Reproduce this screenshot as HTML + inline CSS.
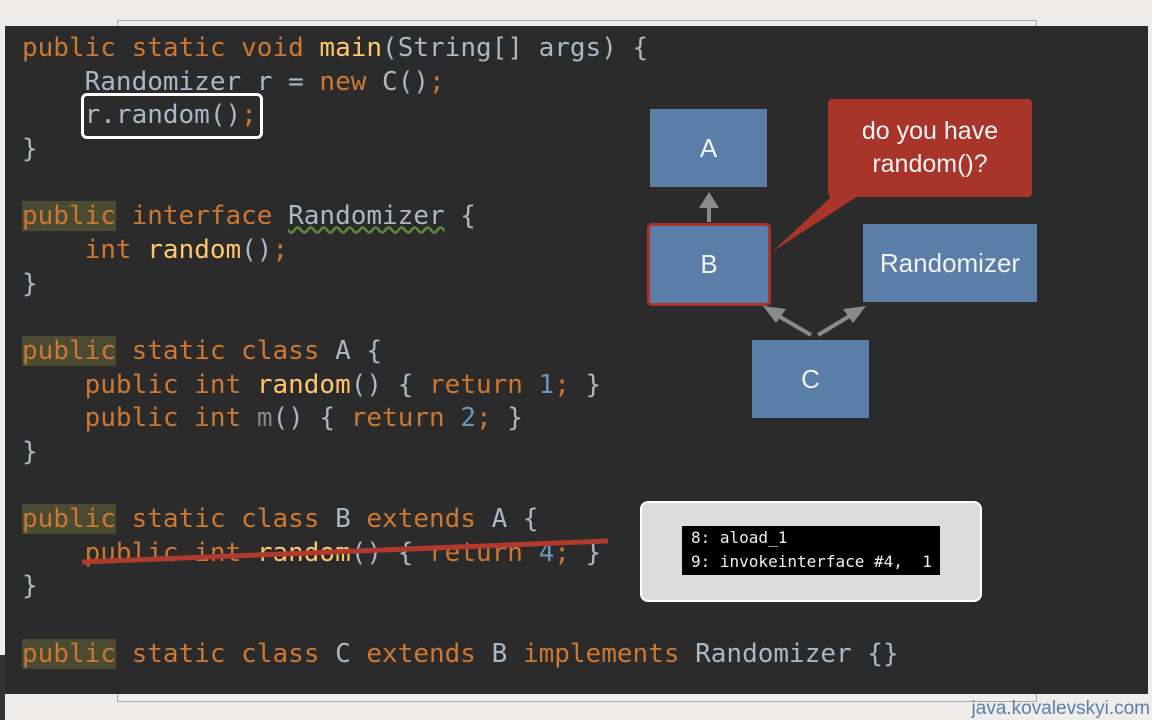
<!DOCTYPE html>
<html><head><meta charset="utf-8"><style>
body{margin:0;width:1152px;height:720px;background:#eeedeb;position:relative;overflow:hidden;font-family:"Liberation Sans",sans-serif}
.frame{position:absolute;left:117px;top:20px;width:918px;height:680px;border:1px solid #aaa}
.panel{position:absolute;left:5px;top:26px;width:1143px;height:668px;background:#2b2b2b}
.l{position:absolute;left:22px;font-family:"DejaVu Sans Mono","Liberation Mono",monospace;font-size:26px;line-height:34px;white-space:pre;color:#a9b7c6}
.k{color:#cc7832}.g{color:#ffc66d}.n{color:#6897bb}
.h{background:#4b4a32}
.box{position:absolute;background:#5a7ea8;color:#f2f2f2;font-size:26px;display:flex;align-items:center;justify-content:center}
</style></head><body>
<div class="frame"></div>
<div class="panel"></div>
<div style="position:absolute;left:0;top:655px;width:5px;height:65px;background:#333"></div>
<div class="l" style="top:31px"><span class="k">public static void </span><span class="g">main</span>(String[] args) {</div>
<div class="l" style="top:65px">    Randomizer r = <span class="k">new </span>C()<span class="k">;</span></div>
<div class="l" style="top:98px">    r.random()<span class="k">;</span></div>
<div class="l" style="top:132px">}</div>
<div class="l" style="top:199px"><span class="k"><span class="h">public</span> interface </span><span style="text-decoration:underline wavy #5a8a3a">Randomizer</span> {</div>
<div class="l" style="top:233px"><span class="k">    int </span><span class="g">random</span>()<span class="k">;</span></div>
<div class="l" style="top:267px">}</div>
<div class="l" style="top:334px"><span class="k"><span class="h">public</span> static class </span>A {</div>
<div class="l" style="top:368px"><span class="k">    public int </span><span class="g">random</span>() { <span class="k">return </span><span class="n">1</span><span class="k">;</span> }</div>
<div class="l" style="top:401px"><span class="k">    public int </span><span style="color:#888">m</span>() { <span class="k">return </span><span class="n">2</span><span class="k">;</span> }</div>
<div class="l" style="top:435px">}</div>
<div class="l" style="top:502px"><span class="k"><span class="h">public</span> static class </span>B <span class="k">extends </span>A {</div>
<div class="l" style="top:536px"><span class="k">    public int </span><span class="g">random</span>() { <span class="k">return </span><span class="n">4</span><span class="k">;</span> }</div>
<div class="l" style="top:569px">}</div>
<div class="l" style="top:637px"><span class="k"><span class="h">public</span> static class </span>C <span class="k">extends </span>B <span class="k">implements </span>Randomizer {}</div>
<div style="position:absolute;left:81px;top:93px;width:176px;height:40px;border:3px solid #fff;border-radius:6px"></div>
<svg style="position:absolute;left:0;top:0" width="1152" height="720">
<line x1="82" y1="562" x2="608" y2="541" stroke="#b03a2e" stroke-width="5"/>
<polygon points="832,196 858,196 772,252" fill="#a9342a"/>
<line x1="709" y1="222" x2="709" y2="204" stroke="#8a8a8a" stroke-width="4"/>
<polygon points="699,208 719,208 709,192" fill="#8a8a8a"/>
<line x1="811" y1="335" x2="775" y2="314" stroke="#8a8a8a" stroke-width="4"/>
<polygon points="763,306 786,309 776,323" fill="#8a8a8a"/>
<line x1="818" y1="335" x2="853" y2="314" stroke="#8a8a8a" stroke-width="4"/>
<polygon points="866,306 843,309 853,323" fill="#8a8a8a"/>
</svg>
<div class="box" style="left:650px;top:109px;width:117px;height:78px">A</div>
<div class="box" style="left:647px;top:223px;width:118px;height:77px;border:3px solid #a9342a;border-radius:5px">B</div>
<div class="box" style="left:863px;top:224px;width:174px;height:78px">Randomizer</div>
<div class="box" style="left:752px;top:340px;width:117px;height:78px">C</div>
<div style="position:absolute;left:828px;top:99px;width:204px;height:98px;background:#a9342a;border-radius:4px;color:#f4f4f4;font-size:25px;line-height:33px;text-align:center;display:flex;align-items:center;justify-content:center">do you have<br>random()?</div>
<div style="position:absolute;left:640px;top:501px;width:338px;height:97px;background:#dcdcdc;border:2px solid #fff;border-radius:8px"></div>
<div style="position:absolute;left:682px;top:526px;width:258px;height:49px;background:#000;color:#eee;font-family:'DejaVu Sans Mono',monospace;font-size:16px;line-height:24px;padding-left:9px;box-sizing:border-box;white-space:pre">8: aload_1
9: invokeinterface #4,  1</div>
<div style="position:absolute;right:2px;top:698px;color:#5a7ea8;font-size:19px">java.kovalevskyi.com</div>
</body></html>
